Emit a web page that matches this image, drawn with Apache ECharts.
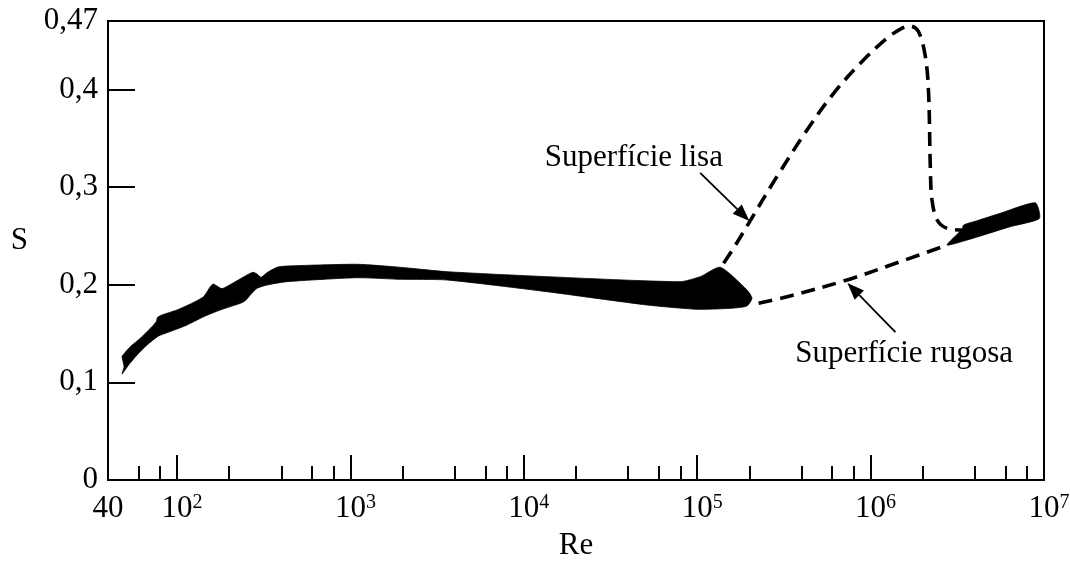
<!DOCTYPE html>
<html>
<head>
<meta charset="utf-8">
<script src="https://cdn.jsdelivr.net/npm/echarts@6/dist/echarts.min.js"></script>
<style>
  html, body { margin: 0; padding: 0; background: #fff; }
  #chart { width: 1070px; height: 567px; }
</style>
</head>
<body>
<div id="chart"></div>
<script>
// Strouhal number S against Reynolds number Re for a circular cylinder.

const reMin = 40;
const reMax = 1e7;
const reLabelTicks = [40, 1e2, 1e3, 1e4, 1e5, 1e6, 1e7];
const reMajorTicks = [1e2, 1e3, 1e4, 1e5, 1e6, 1e7];
const reMinorTicks = [60, 80, 200, 400, 600, 800, 2e3, 4e3, 6e3, 8e3,
  2e4, 4e4, 6e4, 8e4, 2e5, 4e5, 6e5, 8e5, 2e6, 4e6, 6e6, 8e6];
const sMin = 0;
const sMax = 0.47;
const sLabelTicks = [0, 0.1, 0.2, 0.3, 0.4, 0.47];
const sTickMarks = [0, 0.1, 0.2, 0.3, 0.4];

// Measured band up to the critical range: upper edge, right tip, lower edge back.
const subcriticalBand = [
  [48.2, 0.1263], [48.8, 0.128], [53.8, 0.1365], [61.4, 0.1451], [71.7, 0.157],
  [75.9, 0.1621], [77.3, 0.1666], [81.9, 0.169], [100, 0.1741], [119.3, 0.1802],
  [142.3, 0.1877], [155.6, 0.1979], [161.3, 0.2007], [170.1, 0.1986], [181.8, 0.1959],
  [212, 0.202], [253.3, 0.2099], [274.3, 0.2127], [289.3, 0.2109], [305.1, 0.2076],
  [330.4, 0.2123], [377.3, 0.2178], [430.8, 0.2191], [1091, 0.2209], [1940, 0.2178],
  [3606, 0.2133], [13610, 0.2082], [79890, 0.2031], [104200, 0.2082], [135900, 0.2178],
  [193700, 0.1946], [207000, 0.1861], [193700, 0.1782],
  [155200, 0.1758], [99720, 0.1748], [51330, 0.1792], [13610, 0.1928], [3606, 0.2048],
  [1940, 0.2055], [1091, 0.2071], [430.8, 0.2031], [330.4, 0.1997], [289.3, 0.1963],
  [264.6, 0.1894], [247.6, 0.1836], [231.7, 0.1809], [177.7, 0.1741], [142.3, 0.1672],
  [114.2, 0.1587], [100, 0.1546], [87.5, 0.1508], [78.3, 0.1475], [67.1, 0.1382],
  [58.8, 0.128], [52.6, 0.1178], [48.2, 0.1085], [49.5, 0.116]
];

// Measured band in the transcritical range.
const transcriticalBand = [
  [2.76e6, 0.2406], [3.37e6, 0.2567], [3.44e6, 0.2611], [4.11e6, 0.2655],
  [5.6e6, 0.2731], [8.91e6, 0.2838], [9.4e6, 0.2678],
  [6.39e6, 0.2594], [3.6e6, 0.2457]
];

// Smooth cylinder (dashed, upper branch).
const smoothSurface = [
  [1.42e5, 0.2219], [1.62e5, 0.2373], [1.98e5, 0.2628], [2.88e5, 0.3106],
  [4.30e5, 0.3584], [6.12e5, 0.396], [8.73e5, 0.4267], [1.24e6, 0.4523],
  [1.55e6, 0.4635], [1.69e6, 0.4649], [1.89e6, 0.459], [2.07e6, 0.4334],
  [2.16e6, 0.396], [2.21e6, 0.3208], [2.26e6, 0.2867], [2.42e6, 0.2662],
  [2.76e6, 0.2577], [3.37e6, 0.256]
];

// Rough cylinder (dashed, lower branch).
const roughSurface = [
  [2.26e5, 0.1809], [3.30e5, 0.1877], [7.31e5, 0.2048], [1.48e6, 0.2235], [2.76e6, 0.2406]
];

const bands = [subcriticalBand, transcriticalBand];

// Callouts: label centre, arrow tail and arrow tip, in (Re, S).
const notes = [
  { text: 'Superfície lisa', label: [4.31e4, 0.3297], tail: [1.04e5, 0.3144], tip: [2.0e5, 0.2652] },
  { text: 'Superfície rugosa', label: [1.56e6, 0.129], tail: [1.39e6, 0.1515], tip: [7.35e5, 0.2017] }
];

const serif = '"Liberation Serif", "Times New Roman", "DejaVu Serif", serif';
const ink = '#000';
const fs = 31;

const chart = echarts.init(document.getElementById('chart'), null, { renderer: 'canvas' });

chart.setOption({
  animation: false,
  backgroundColor: '#fff',
  grid: {
    left: 108, right: 26, top: 21, bottom: 87,
    show: true, borderColor: ink, borderWidth: 2, backgroundColor: 'transparent',
    outerBoundsMode: 'none'
  },
  xAxis: [{
    type: 'log', logBase: 10, min: reMin, max: reMax, position: 'bottom',
    axisLine: { show: true, onZero: false, lineStyle: { color: ink, width: 2 } },
    axisTick: { show: true, inside: true, length: 25, customValues: reMajorTicks,
      lineStyle: { color: ink, width: 2 } },
    axisLabel: {
      show: true, margin: 13, customValues: reLabelTicks, color: ink,
      formatter: function (v) {
        if (v < 50) return '{n|40}';
        return '{pad|}{n|10}{sup|' + Math.round(Math.log10(v)) + '}';
      },
      rich: {
        n: { fontSize: fs, fontFamily: serif, color: ink },
        sup: { fontSize: 20, fontFamily: serif, color: ink, verticalAlign: 'top' },
        pad: { width: 10 }
      }
    },
    splitLine: { show: false },
    name: 'Re', nameLocation: 'middle', nameGap: 50,
    nameTextStyle: { fontSize: fs, fontFamily: serif, color: ink }
  }, {
    type: 'log', logBase: 10, min: reMin, max: reMax, position: 'bottom',
    axisLine: { show: false, onZero: false },
    axisTick: { show: true, inside: true, length: 14, customValues: reMinorTicks,
      lineStyle: { color: ink, width: 2 } },
    axisLabel: { show: false },
    splitLine: { show: false }
  }],
  yAxis: {
    type: 'value', min: sMin, max: sMax,
    axisLine: { show: true, onZero: false, lineStyle: { color: ink, width: 2 } },
    axisTick: { show: true, inside: true, length: 27, customValues: sTickMarks,
      lineStyle: { color: ink, width: 2 } },
    axisLabel: {
      show: true, margin: 10, customValues: sLabelTicks,
      fontSize: fs, fontFamily: serif, color: ink,
      formatter: function (v) { return String(v).replace('.', ','); }
    },
    splitLine: { show: false },
    name: 'S', nameLocation: 'middle', nameRotate: 0, nameGap: 80,
    nameTextStyle: { fontSize: fs, fontFamily: serif, color: ink,
      verticalAlign: 'bottom', lineHeight: 20 }
  },
  series: [
    {
      type: 'custom', name: 'faixa', coordinateSystem: 'cartesian2d', xAxisIndex: 0,
      silent: true, z: 2,
      data: bands.map(function (b, i) { return [b[0][0], b[0][1], i]; }),
      encode: { x: 0, y: 1 },
      renderItem: function (params, api) {
        const band = bands[api.value(2)];
        return {
          type: 'polygon',
          shape: { points: band.map(function (p) { return api.coord(p); }), smooth: 0.2 },
          style: { fill: ink, stroke: ink, lineWidth: 0.8 }
        };
      }
    },
    {
      type: 'line', name: 'Superfície lisa', data: smoothSurface, xAxisIndex: 0,
      smooth: 0.35, showSymbol: false, silent: true, z: 3,
      lineStyle: { color: ink, width: 3.6, type: [14, 8] }
    },
    {
      type: 'line', name: 'Superfície rugosa', data: roughSurface, xAxisIndex: 0,
      smooth: 0.35, showSymbol: false, silent: true, z: 3,
      lineStyle: { color: ink, width: 3.6, type: [14, 8] }
    },
    {
      type: 'custom', name: 'notas', coordinateSystem: 'cartesian2d', xAxisIndex: 0,
      silent: true, z: 4, clip: false,
      data: notes.map(function (n, i) { return [n.label[0], n.label[1], i]; }),
      encode: { x: 0, y: 1 },
      renderItem: function (params, api) {
        const n = notes[api.value(2)];
        const t = api.coord(n.tail), h = api.coord(n.tip), c = api.coord(n.label);
        const dx = h[0] - t[0], dy = h[1] - t[1];
        const len = Math.sqrt(dx * dx + dy * dy);
        const ux = dx / len, uy = dy / len;
        const headLen = 17, headHalf = 6.5;
        const bx = h[0] - ux * headLen, by = h[1] - uy * headLen;
        return {
          type: 'group',
          children: [
            { type: 'line', shape: { x1: t[0], y1: t[1], x2: bx, y2: by },
              style: { stroke: ink, lineWidth: 1.8 } },
            { type: 'polygon',
              shape: { points: [h, [bx - uy * headHalf, by + ux * headHalf], [bx + uy * headHalf, by - ux * headHalf]] },
              style: { fill: ink } },
            { type: 'text', x: c[0], y: c[1],
              style: { text: n.text, fontSize: fs, fontFamily: serif, fill: ink,
                align: 'center', verticalAlign: 'middle' } }
          ]
        };
      }
    }
  ]
});
</script>
</body>
</html>
